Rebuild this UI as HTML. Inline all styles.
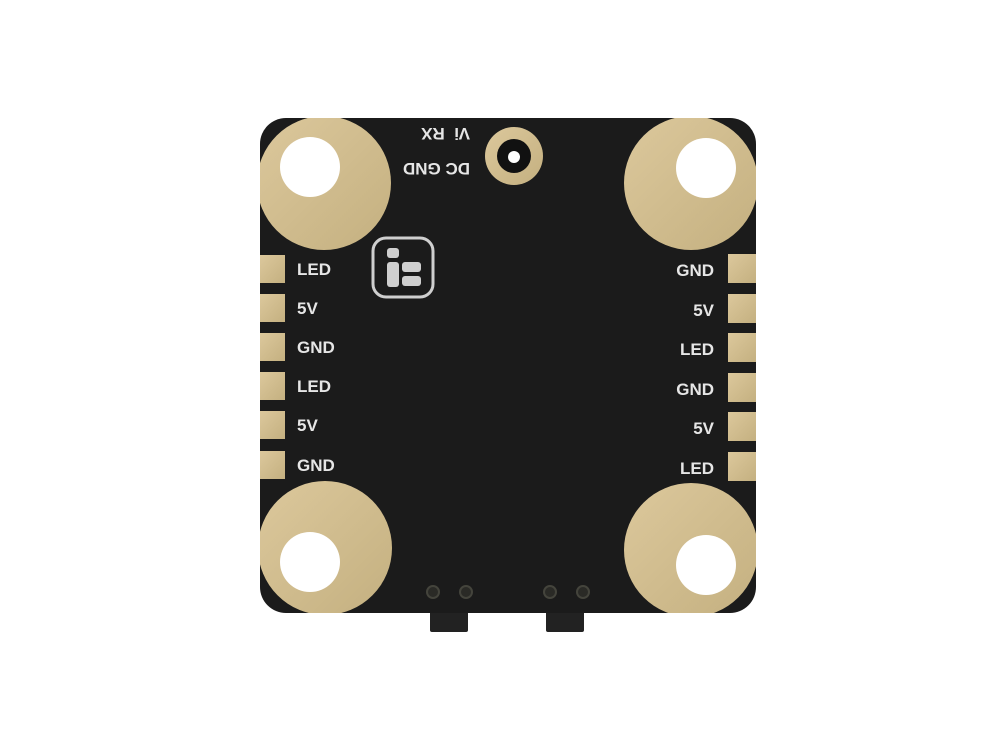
<!DOCTYPE html>
<html><head><meta charset="utf-8"><style>
html,body{margin:0;padding:0;background:#fff;}
svg{display:block;}
text{font-family:"Liberation Sans",sans-serif;font-weight:bold;fill:#e6e6e6;font-size:17px;}
</style></head><body>
<svg width="1000" height="750" viewBox="0 0 1000 750">
<defs>
<linearGradient id="g" x1="0" y1="0" x2="1" y2="1">
<stop offset="0" stop-color="#dcc89c"/><stop offset="1" stop-color="#c4b080"/>
</linearGradient>
<clipPath id="b"><rect x="260" y="118" width="496" height="495" rx="26"/></clipPath>
</defs>
<rect x="430" y="605" width="38" height="27" rx="2" fill="#222"/>
<rect x="546" y="605" width="38" height="27" rx="2" fill="#222"/>
<rect x="260" y="118" width="496" height="495" rx="26" fill="#1b1b1b"/>
<g clip-path="url(#b)" fill="url(#g)">
<circle cx="324" cy="183" r="67"/>
<circle cx="691" cy="183" r="67"/>
<circle cx="325" cy="548" r="67"/>
<circle cx="691" cy="550" r="67"/>
<rect x="260" y="255" width="25" height="28"/>
<rect x="260" y="294" width="25" height="28"/>
<rect x="260" y="333" width="25" height="28"/>
<rect x="260" y="372" width="25" height="28"/>
<rect x="260" y="411" width="25" height="28"/>
<rect x="260" y="451" width="25" height="28"/>
<rect x="728" y="254" width="28" height="29"/>
<rect x="728" y="294" width="28" height="29"/>
<rect x="728" y="333" width="28" height="29"/>
<rect x="728" y="373" width="28" height="29"/>
<rect x="728" y="412" width="28" height="29"/>
<rect x="728" y="452" width="28" height="29"/>
</g>
<g fill="#fff">
<circle cx="310" cy="167" r="30"/>
<circle cx="706" cy="168" r="30"/>
<circle cx="310" cy="562" r="30"/>
<circle cx="706" cy="565" r="30"/>
</g>
<circle cx="514" cy="156" r="29" fill="url(#g)"/>
<circle cx="514" cy="156" r="17" fill="#111"/>
<circle cx="514" cy="157" r="6" fill="#fff"/>
<g transform="rotate(180 440 153)">
<text x="410" y="143">DC GND</text>
<text x="410" y="178">Vi&#160;&#160;RX</text>
</g>
<rect x="373" y="238" width="60" height="59" rx="13" fill="none" stroke="#cfcfcf" stroke-width="3"/>
<rect x="387" y="248" width="12" height="10" rx="3" fill="#cfcfcf"/>
<rect x="387" y="262" width="12" height="25" rx="3" fill="#cfcfcf"/>
<rect x="402" y="262" width="19" height="10" rx="3" fill="#cfcfcf"/>
<rect x="402" y="276" width="19" height="10" rx="3" fill="#cfcfcf"/>
<text x="297" y="275">LED</text>
<text x="297" y="314">5V</text>
<text x="297" y="353">GND</text>
<text x="297" y="392">LED</text>
<text x="297" y="431">5V</text>
<text x="297" y="471">GND</text>
<g text-anchor="end">
<text x="714" y="276">GND</text>
<text x="714" y="316">5V</text>
<text x="714" y="355">LED</text>
<text x="714" y="395">GND</text>
<text x="714" y="434">5V</text>
<text x="714" y="474">LED</text>
</g>
<g fill="#2a2a26" stroke="#44443c" stroke-width="2">
<circle cx="433" cy="592" r="6"/><circle cx="466" cy="592" r="6"/>
<circle cx="550" cy="592" r="6"/><circle cx="583" cy="592" r="6"/>
</g>
</svg>
</body></html>
